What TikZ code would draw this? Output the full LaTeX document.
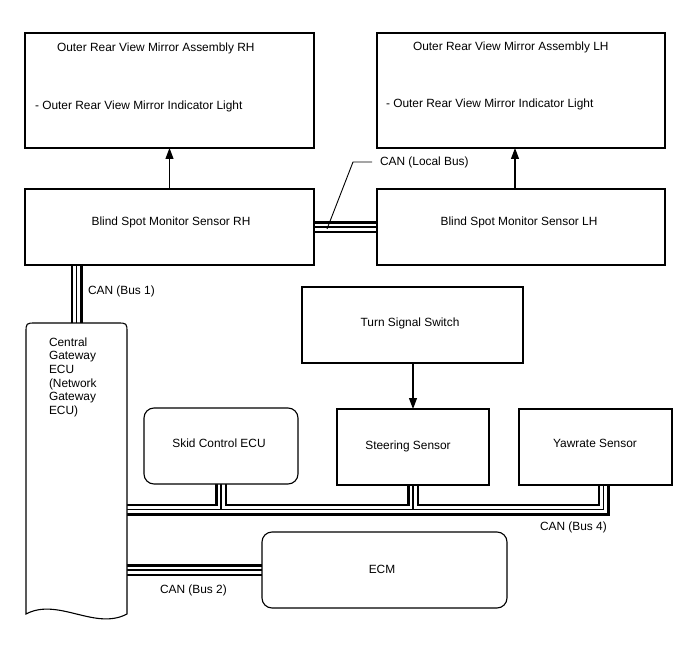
\documentclass[tikz,border=0pt]{standalone}
\usepackage{fontspec}
\setmainfont{Liberation Sans}
\usetikzlibrary{arrows.meta,calc}
\pgfdeclarelayer{bg}
\pgfsetlayers{bg,main}
\newcommand\drawbus[1]{%
  \draw[busout] #1;
  \draw[busin] #1;
  \draw[busmid] #1;}
\begin{document}
\begin{tikzpicture}[x=1pt,y=-1pt,
  box/.style={draw, line width=1.1pt, fill=white, anchor=north west, inner sep=0pt, outer sep=0pt},
  rbox/.style={box, rounded corners=10pt},
  lbl/.style={font=\fontsize{11.9}{13.6}\selectfont, inner sep=0pt, outer sep=0pt},
  arr/.style={line width=1.1pt, -{Triangle[length=11pt,width=8pt]}},
  busout/.style={line width=12pt, black},
  busin/.style={line width=7pt, white},
  busmid/.style={line width=1.3pt, black},
]
\useasboundingbox (0,0) rectangle (688,658);

% boxes
\node[box, minimum width=289pt, minimum height=115pt] (mrh) at (25,33) {};
\node[box, minimum width=289pt, minimum height=76pt] (bsr) at (25,189) {};
\node[box, minimum width=288pt, minimum height=115pt] (mlh) at (377,33) {};
\node[box, minimum width=288pt, minimum height=76pt] (bsl) at (377,189) {};
\node[box, minimum width=221pt, minimum height=76pt] (tss) at (302,287) {};
\node[rbox, minimum width=154pt, minimum height=76pt] (skid) at (144,408) {};
\node[box, minimum width=152pt, minimum height=76pt] (steer) at (337,409) {};
\node[box, minimum width=153pt, minimum height=76pt] (yaw) at (519,409) {};
\node[rbox, minimum width=245pt, minimum height=76pt] (ecm) at (262,532) {};
\node[anchor=north west, inner sep=0pt, outer sep=0pt, minimum width=101pt, minimum height=291pt] (gw) at (26,323) {};

% gateway outline
\draw[line width=1.1pt, fill=white]
  (gw.south west) -- ($(gw.north west)+(0,10)$)
  .. controls (gw.north west) .. ($(gw.north west)+(10,0)$)
  -- ($(gw.north east)+(-10,0)$)
  .. controls (gw.north east) .. ($(gw.north east)+(0,10)$)
  -- (gw.south east)
  .. controls +(-32,17) and +(32,-17) .. (gw.south west) -- cycle;

% buses
\coordinate (b4l) at (127,509.5);
\coordinate (b4r) at (603.5,509.5);
\coordinate (xl) at (515,0);
\begin{pgfonlayer}{bg}
\drawbus{(gw.north) -- (gw.north |- bsr.south)}
\drawbus{(bsr.east) -- (bsl.west)}
\drawbus{(ecm.west -| gw.east) -- (ecm.west)}
\drawbus{(b4l) -- (b4r) -- (b4r |- yaw.south) (skid.south |- b4l) -- (skid.south) (steer.south |- b4l) -- (steer.south)}
\end{pgfonlayer}

% arrows
\draw[arr] (bsr.north) -- (mrh.south);
\draw[arr] (bsl.north -| xl) -- (mlh.south -| xl);
\draw[arr] (tss.south -| steer.north) -- (steer.north);

% labels
\node[lbl, anchor=base west] (t1) at (57,51.8) {Outer Rear View Mirror Assembly RH};
\node[lbl, anchor=base west] (t2) at (35,109.3) {- Outer Rear View Mirror Indicator Light};
\node[lbl, anchor=base west] (t3) at (413,50.3) {Outer Rear View Mirror Assembly LH};
\node[lbl, anchor=base west] (t4) at (386,107.3) {- Outer Rear View Mirror Indicator Light};
\node[lbl, anchor=base] (t5) at (171,225.3) {Blind Spot Monitor Sensor RH};
\node[lbl, anchor=base] (t6) at (519,225.3) {Blind Spot Monitor Sensor LH};
\node[lbl, anchor=base west] (canl) at (380,165.3) {CAN (Local Bus)};
\node[lbl, anchor=base west] (can1) at (88,294.3) {CAN (Bus 1)};
\node[lbl, anchor=base west] (g1) at (49,346.3) {Central};
\node[lbl, anchor=base west] (g2) at (49,359.9) {Gateway};
\node[lbl, anchor=base west] (g3) at (49,373.5) {ECU};
\node[lbl, anchor=base west] (g4) at (49,387.1) {(Network};
\node[lbl, anchor=base west] (g5) at (49,400.7) {Gateway};
\node[lbl, anchor=base west] (g6) at (49,414.3) {ECU)};
\node[lbl, anchor=base] (t7) at (410,326.3) {Turn Signal Switch};
\node[lbl, anchor=base] (t8) at (219,447.3) {Skid Control ECU};
\node[lbl, anchor=base] (t9) at (408,449.3) {Steering Sensor};
\node[lbl, anchor=base] (t10) at (595,447.3) {Yawrate Sensor};
\node[lbl, anchor=base west] (can4) at (540,530.3) {CAN (Bus 4)};
\node[lbl, anchor=base] (t11) at (382,573.3) {ECM};
\node[lbl, anchor=base west] (can2) at (160,593.3) {CAN (Bus 2)};

% leader for local bus
\draw[line width=0.9pt] ([xshift=-8pt]canl.west |- 0,162) -- ++(-19,0) -- (327,229);
\end{tikzpicture}
\end{document}
